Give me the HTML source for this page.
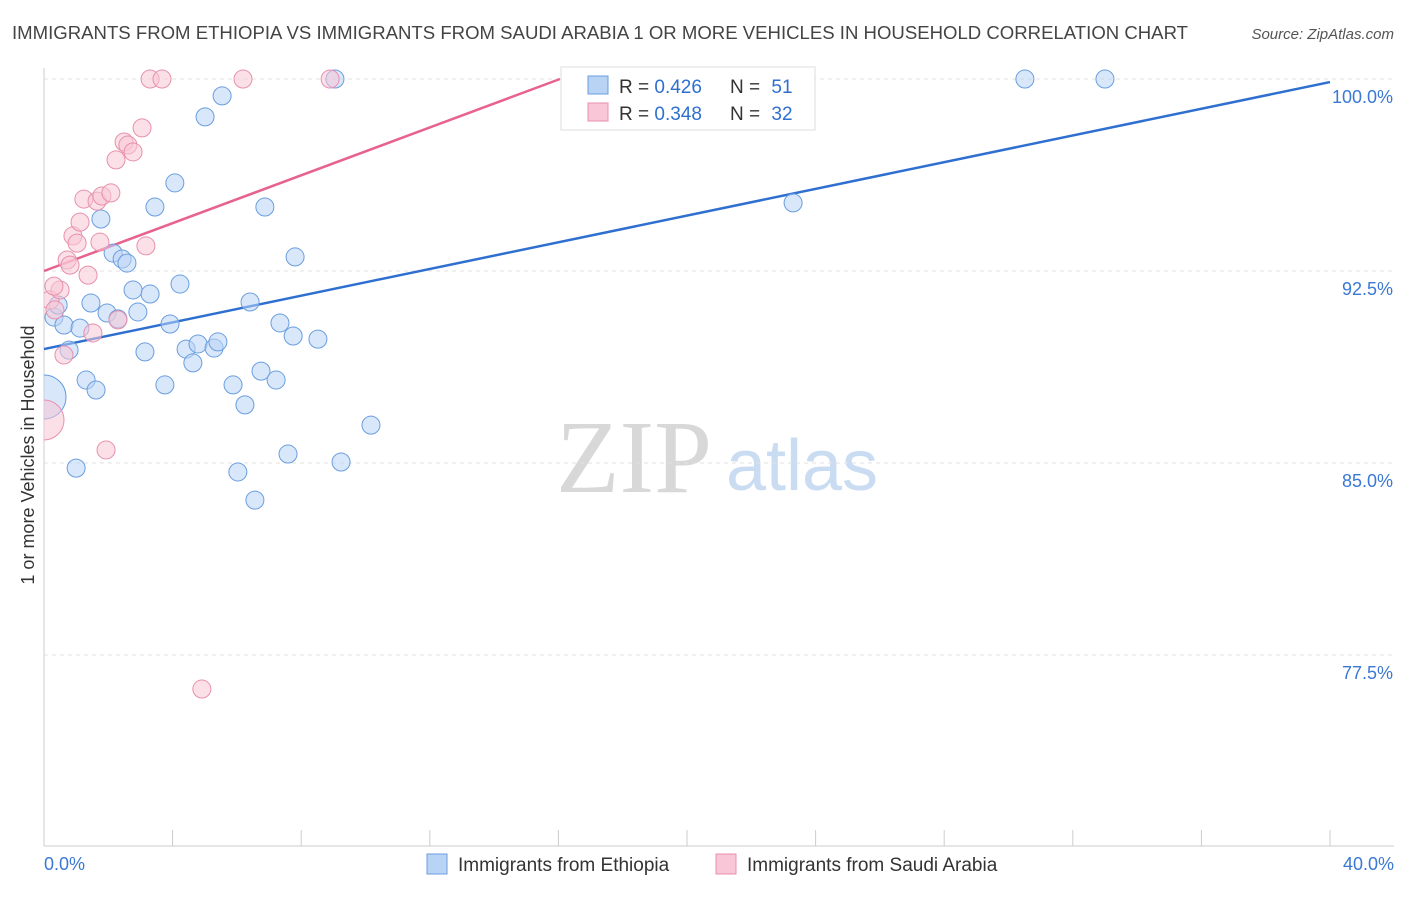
<!DOCTYPE html>
<html><head><meta charset="utf-8">
<style>
body{margin:0;background:#fff;font-family:"Liberation Sans",sans-serif;}
svg text{font-family:"Liberation Sans",sans-serif;}
</style></head>
<body>
<svg id="chart" width="1406" height="892" viewBox="0 0 1406 892" xmlns="http://www.w3.org/2000/svg">
<defs><clipPath id="plotclip"><rect x="44" y="60" width="1360" height="790"/></clipPath></defs>
<text x="12" y="39" font-size="18.6" fill="#444" textLength="1176" lengthAdjust="spacingAndGlyphs">IMMIGRANTS FROM ETHIOPIA VS IMMIGRANTS FROM SAUDI ARABIA 1 OR MORE VEHICLES IN HOUSEHOLD CORRELATION CHART</text>
<text x="1394" y="39" font-size="15" fill="#555" text-anchor="end" font-style="italic">Source: ZipAtlas.com</text>
<text transform="translate(34,455) rotate(-90)" font-size="18" fill="#333" text-anchor="middle">1 or more Vehicles in Household</text>
<g>
<text x="634" y="492" font-size="104" fill="#d8d8d8" font-family="Liberation Serif" text-anchor="middle" style="font-family:'Liberation Serif',serif">ZIP</text>
<text x="802" y="490" font-size="72" fill="#c9dcf2" text-anchor="middle">atlas</text>
</g>
<g id="grid"></g><g id="axes"></g><g id="lines"></g><g id="points" clip-path="url(#plotclip)"></g>
<g>
<rect x="561" y="67" width="254" height="63" fill="#fff" stroke="#ddd"/>
<rect x="588" y="76" width="20" height="18" fill="#b9d3f5" stroke="#6a9ee0"/>
<rect x="588" y="103" width="20" height="18" fill="#f8c6d6" stroke="#e890ad"/>
<text x="619" y="93" font-size="19" fill="#333">R = <tspan fill="#2f6fd0">0.426</tspan></text>
<text x="730" y="93" font-size="19" fill="#333">N = <tspan fill="#2f6fd0" dx="6">51</tspan></text>
<text x="619" y="120" font-size="19" fill="#333">R = <tspan fill="#2f6fd0">0.348</tspan></text>
<text x="730" y="120" font-size="19" fill="#333">N = <tspan fill="#2f6fd0" dx="6">32</tspan></text>
</g>
<g>
<rect x="427" y="854" width="20" height="20" fill="#b9d3f5" stroke="#6a9ee0"/>
<text x="458" y="871" font-size="19" fill="#333">Immigrants from Ethiopia</text>
<rect x="716" y="854" width="20" height="20" fill="#f8c6d6" stroke="#e890ad"/>
<text x="747" y="871" font-size="19" fill="#333">Immigrants from Saudi Arabia</text>
</g>
</svg>
<script>
const yTicks=[100,92.5,85,77.5];
const yTickLabels=["100.0%","92.5%","85.0%","77.5%"];
const xTickLabels=["0.0%","40.0%"];
const blueX=[0.31,0.44,0.62,0.78,1.0,1.12,1.31,1.46,1.62,1.77,1.96,2.15,2.3,2.43,2.58,2.77,2.92,3.14,3.3,3.45,3.76,3.92,4.07,4.23,4.42,4.63,4.79,5.01,5.29,5.41,5.54,5.88,6.03,6.25,6.41,6.56,6.75,6.87,7.22,7.34,7.59,7.75,7.81,8.52,9.05,9.24,10.17,23.3,30.51,33.0,0];
const blueY=[90.7,91.17,90.39,89.41,84.8,90.27,88.24,91.25,87.85,94.53,90.86,93.2,90.63,92.97,92.81,91.76,90.9,89.34,91.6,95.0,88.05,90.43,95.94,91.99,89.45,88.91,89.65,98.52,89.49,89.73,99.34,88.05,84.65,87.27,91.29,83.55,88.59,95.0,88.24,90.47,85.35,89.96,93.05,89.84,100,85.04,86.48,95.16,100,100,87.58];
const blueSize=[9,9,9,9,9,9,9,9,9,9,9,9,9,9,9,9,9,9,9,9,9,9,9,9,9,9,9,9,9,9,9,9,9,9,9,9,9,9,9,9,9,9,9,9,9,9,9,9,9,9,22];
const pinkX=[0.19,0.34,0.5,0.62,0.72,0.81,0.9,1.03,1.12,1.24,1.37,1.52,1.65,1.74,1.8,1.93,2.08,2.24,2.3,2.49,2.61,2.77,3.05,3.17,3.3,3.67,4.91,6.19,8.9,0,0.31];
const pinkY=[91.37,90.98,91.76,89.22,92.93,92.73,93.87,93.59,94.41,95.31,92.34,90.08,95.23,93.63,95.43,85.51,95.55,96.84,90.59,97.54,97.42,97.15,98.09,93.48,100,100,76.17,100,100,86.68,91.91];
const pinkSize=[9,9,9,9,9,9,9,9,9,9,9,9,9,9,9,9,9,9,9,9,9,9,9,9,9,9,9,9,9,20,9];
const blueLine=[89.45,99.88];
const pinkLine=[92.5,100];
const pinkLineEnd=16.05;

const NS="http://www.w3.org/2000/svg";
const sx=v=>44+v*32.15;
const sy=v=>79+(100-v)*25.6;
function mk(tag,attrs,parent){const e=document.createElementNS(NS,tag);for(const k in attrs)e.setAttribute(k,attrs[k]);document.getElementById(parent).appendChild(e);return e;}
yTicks.forEach((t,i)=>{
  const g=mk('line',{x1:44,x2:1394,y1:sy(t),y2:sy(t),stroke:'#e2e2e2','stroke-dasharray':'4,4'},'grid');
  
  
  const l=mk('text',{x:1393,y:sy(t)+24,'font-size':18,fill:'#3a78d4','text-anchor':'end'},'axes');
  l.textContent=yTickLabels[i];
  
  
});
const ax=mk('line',{x1:44,x2:44,y1:68,y2:846,stroke:'#ccc'},'axes');


const bx=mk('line',{x1:44,x2:1394,y1:846,y2:846,stroke:'#ccc'},'axes');


for(let i=0;i<=10;i++){const t=mk('line',{x1:sx(i*4),x2:sx(i*4),y1:830,y2:846,stroke:'#ccc'},'axes');
  
  }
[[0,'start',44],[40,'end',1394]].forEach((d,i)=>{const l=mk('text',{x:d[2],y:870,'font-size':18,fill:'#3a78d4','text-anchor':d[1]},'axes');l.textContent=xTickLabels[i];
  
  });
function dots(X,Y,S,fill,stroke,name){X.forEach((x,i)=>{const c=mk('circle',{cx:sx(x),cy:sy(Y[i]),r:S[i],fill:fill,stroke:stroke,'stroke-width':1,'fill-opacity':0.55},'points');
  
  });}
dots(blueX,blueY,blueSize,'#b9d3f5','#6a9ee0','ethiopia-point');
dots(pinkX,pinkY,pinkSize,'#f8c6d6','#e890ad','saudi-point');
const bl=mk('line',{x1:sx(0),y1:sy(blueLine[0]),x2:sx(40),y2:sy(blueLine[1]),stroke:'#2e6fd0','stroke-width':2.5},'lines');


const pl=mk('line',{x1:sx(0),y1:sy(pinkLine[0]),x2:sx(pinkLineEnd),y2:sy(pinkLine[1]),stroke:'#e8628f','stroke-width':2.5},'lines');


</script>
</body></html>
